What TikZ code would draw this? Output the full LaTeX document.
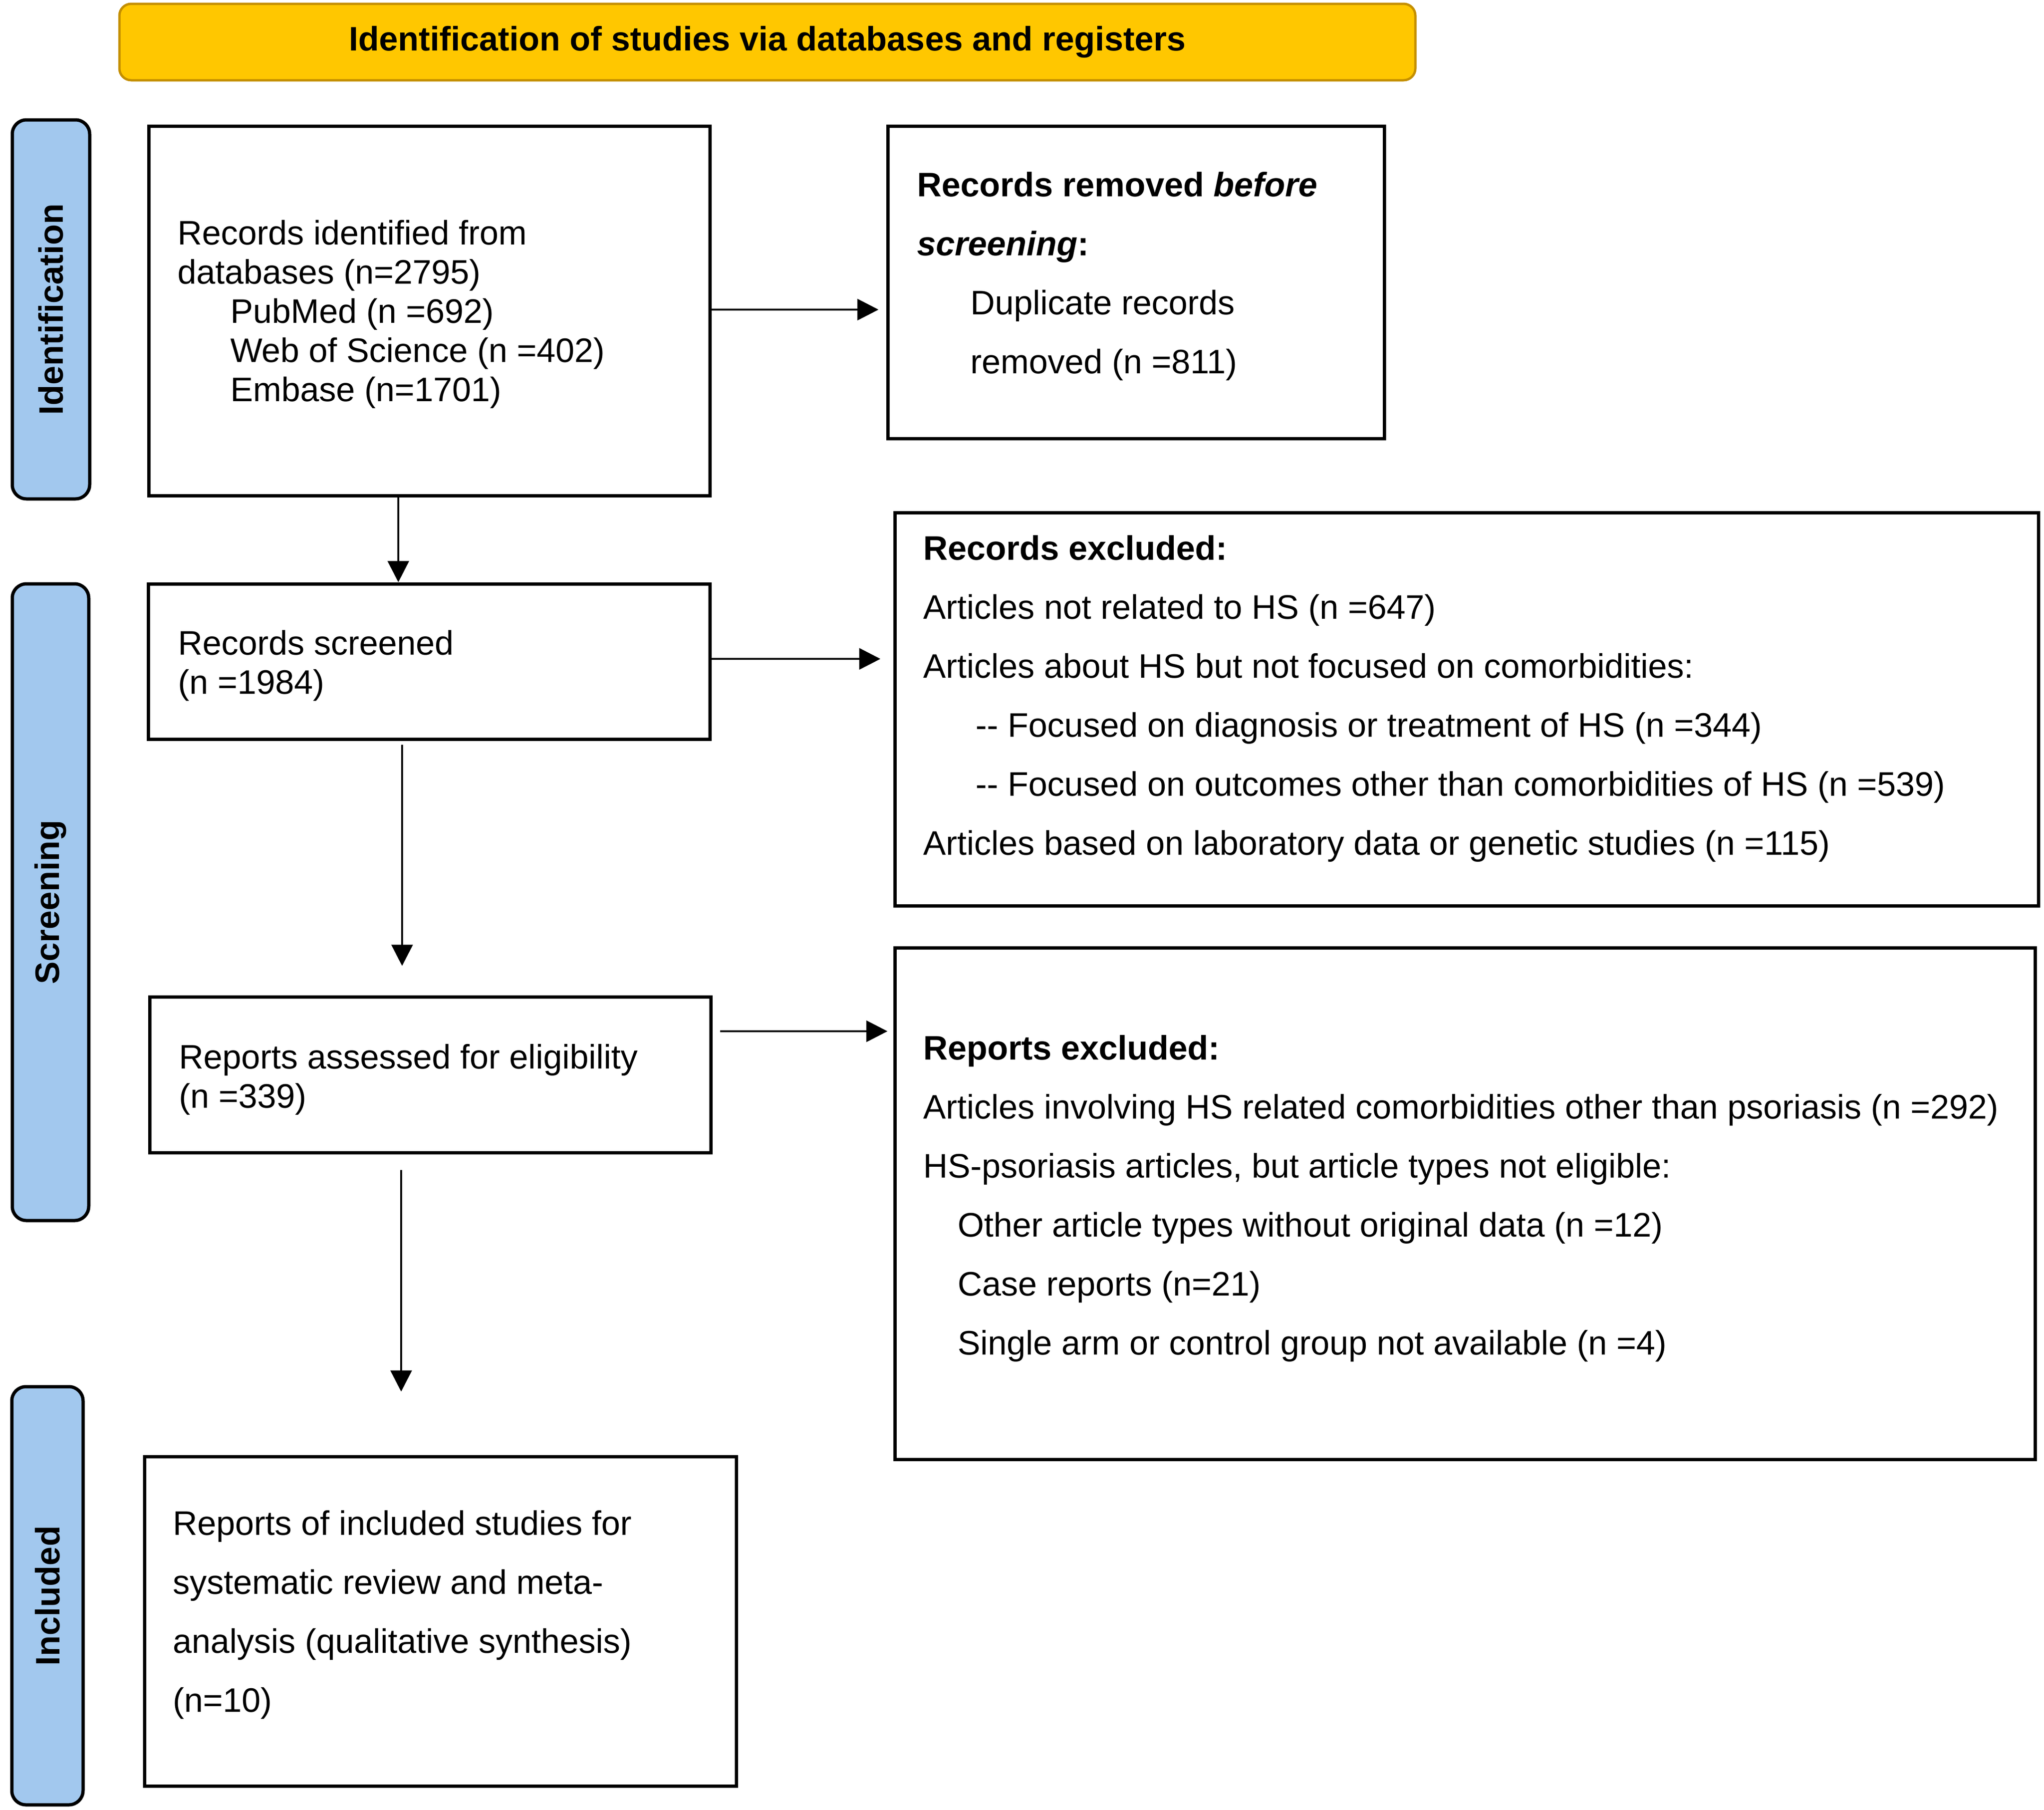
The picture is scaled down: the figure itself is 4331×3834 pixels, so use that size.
\documentclass[tikz,border=0pt]{standalone}
\usepackage{fontspec}
\setmainfont{Liberation Sans}
\usetikzlibrary{arrows.meta}
\definecolor{banfill}{HTML}{FFC700}
\definecolor{banline}{HTML}{C48F00}
\definecolor{barfill}{HTML}{A2C8EE}
\begin{document}
\begin{tikzpicture}[x=1pt,y=-1pt,
  box/.style={draw=black, line width=7pt, fill=white, inner sep=0pt},
  bar/.style={draw=black, line width=7pt, fill=barfill, rounded corners=30pt, inner sep=0pt},
  bartxt/.style={rotate=90, inner sep=0pt, font=\bfseries\fontsize{72}{83}\selectfont},
  txt/.style={anchor=west, align=left, inner sep=0pt, font=\fontsize{72}{83}\selectfont},
  txtw/.style={anchor=west, align=left, inner sep=0pt, font=\fontsize{72}{125}\selectfont},
  arr/.style={-{Triangle[length=45pt,width=45pt]}, line width=4.5pt, draw=black}
]
\useasboundingbox (0,0) rectangle (4331,3834);
\fill[white] (0,0) rectangle (4331,3834);

% banner
\node[draw=banline, line width=5pt, fill=banfill, rounded corners=25pt,
      minimum width=2746pt, minimum height=162pt, inner sep=0pt,
      font=\bfseries\fontsize{72}{83}\selectfont] (ban) at (1626,89)
      {Identification of studies via databases and registers};

% side bars
\node[bar, minimum width=164pt, minimum height=803pt] (idb) at (108,655.5) {};
\node[bartxt] (idt) at (idb.center) {Identification};
\node[bar, minimum width=162pt, minimum height=1349pt] (scb) at (107,1911.5) {};
\node[bartxt] (sct) at (scb.center) {Screening};
\node[bar, minimum width=151pt, minimum height=886pt] (inb) at (100.5,3381) {};
\node[bartxt] (intt) at (inb.center) {Included};

% boxes
\node[box, minimum width=1189pt, minimum height=783pt] (b1) at (909.5,658.5) {};
\node[box, minimum width=1052pt, minimum height=662pt] (rem) at (2407,598) {};
\node[box, minimum width=1190pt, minimum height=329pt] (scr) at (909,1401.5) {};
\node[box, minimum width=1189pt, minimum height=330pt] (ass) at (911.5,2277) {};
\node[box, minimum width=1254pt, minimum height=698pt] (inc) at (933,3435) {};
\node[box, minimum width=2423pt, minimum height=833pt] (rex) at (3107.5,1502.5) {};
\node[box, minimum width=2416pt, minimum height=1084pt] (rpx) at (3104,2550) {};

% texts
\node[txt] (t1) at (376,666) {Records identified from\\databases (n=2795)\\
  \hspace*{112pt}PubMed (n =692)\\
  \hspace*{112pt}Web of Science (n =402)\\
  \hspace*{112pt}Embase (n=1701)};
\node[txtw] (t2) at (1943,585) {\textbf{Records removed \textit{before}}\\
  \textbf{\textit{screening}:}\\
  \hspace*{113pt}Duplicate records\\
  \hspace*{113pt}removed (n =811)};
\node[txt] (t3) at (377,1410) {Records screened\\(n =1984)};
\node[txt] (t4) at (379,2287) {Reports assessed for eligibility\\(n =339)};
\node[txtw] (t5) at (1956,1480) {\textbf{Records excluded:}\\
  Articles not related to HS (n =647)\\
  Articles about HS but not focused on comorbidities:\\
  \hspace*{111pt}{-}{-} Focused on diagnosis or treatment of HS (n =344)\\
  \hspace*{111pt}{-}{-} Focused on outcomes other than comorbidities of HS (n =539)\\
  Articles based on laboratory data or genetic studies (n =115)};
\node[txtw] (t6) at (1956,2539) {\textbf{Reports excluded:}\\
  Articles involving HS related comorbidities other than psoriasis (n =292)\\
  HS-psoriasis articles, but article types not eligible:\\
  \hspace*{73pt}Other article types without original data (n =12)\\
  \hspace*{73pt}Case reports (n=21)\\
  \hspace*{73pt}Single arm or control group not available (n =4)};
\node[txtw] (t7) at (366,3421) {Reports of included studies for\\
  systematic review and meta-\\
  analysis (qualitative synthesis)\\
  (n=10)};

% connector guide coordinates
\coordinate (x1) at (844,0);
\coordinate (x2) at (852,0);
\coordinate (x3) at (850,0);
\coordinate (y4) at (0,656);
\coordinate (y5) at (0,1396);
\coordinate (y6) at (0,2185);

% connectors
\draw[arr] (b1.south -| x1) -- (scr.north -| x1);
\draw[arr, shorten <=8pt, shorten >=62pt] (scr.south -| x2) -- (ass.north -| x2);
\draw[arr, shorten <=33pt, shorten >=134pt] (ass.south -| x3) -- (inc.north -| x3);
\draw[arr, shorten >=16pt] (b1.east |- y4) -- (rem.west |- y4);
\draw[arr, shorten >=27pt] (scr.east |- y5) -- (rex.west |- y5);
\draw[arr, shorten <=16pt, shorten >=12pt] (ass.east |- y6) -- (rpx.west |- y6);
\end{tikzpicture}
\end{document}
